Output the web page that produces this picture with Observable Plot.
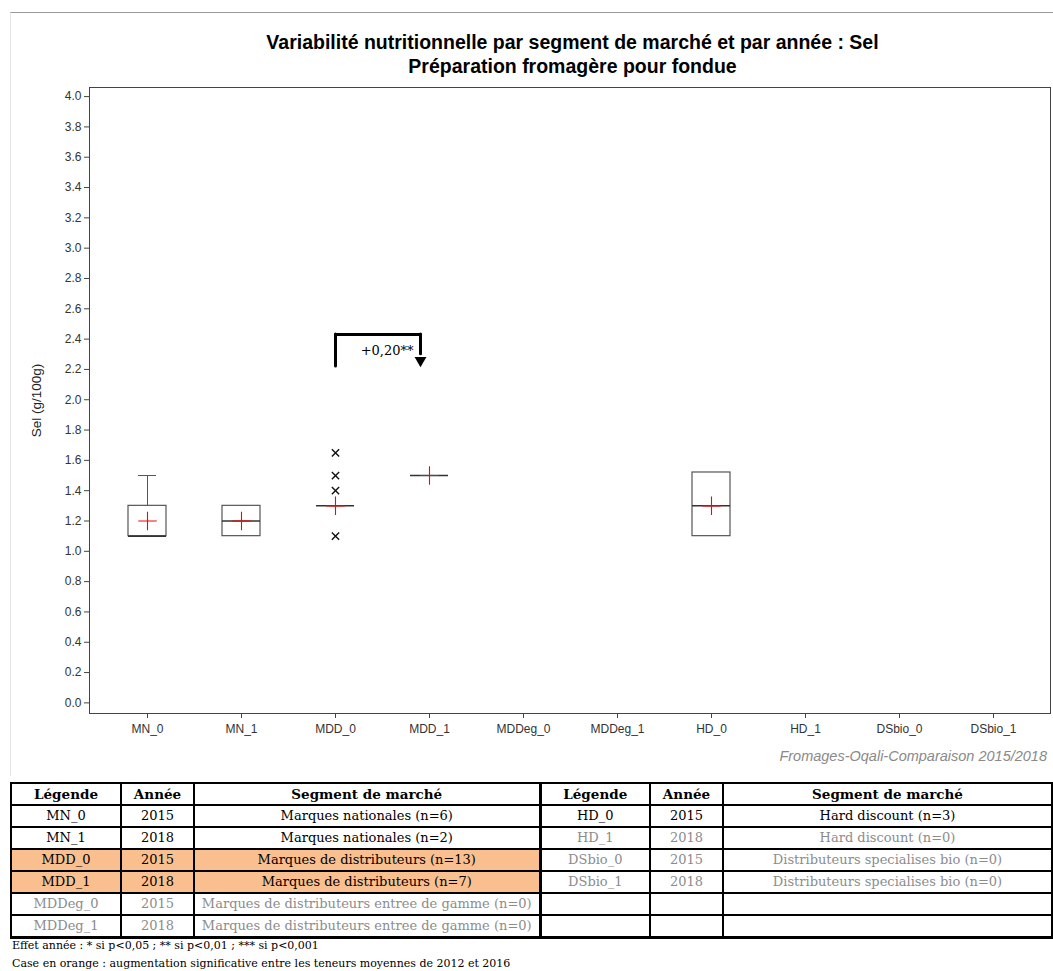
<!DOCTYPE html>
<html>
<head>
<meta charset="utf-8">
<script src="https://cdn.jsdelivr.net/npm/d3@7"></script>
<script src="https://cdn.jsdelivr.net/npm/@observablehq/plot@0.6"></script>
<style>
  html, body { margin: 0; padding: 0; background: #fff; }
  #wrap { position: relative; width: 1053px; height: 971px; overflow: hidden; font-family: "Liberation Sans", Arial, sans-serif; }
  #border { position: absolute; left: 10px; top: 12px; width: 1043px; height: 763px; border-top: 1px solid #9a9a9a; border-left: 1px solid #e6e6e6; }
  #chart { position: absolute; left: 0; top: 0; }
  .title { position: absolute; left: 0; width: 1145px; text-align: center; font-weight: bold; font-size: 19.5px; color: #000; }
  #caption { position: absolute; right: 6px; top: 748px; font-style: italic; font-size: 14.5px; color: #8a8a8a; }
  table.leg { position: absolute; left: 10px; top: 782px; width: 1041px; border-collapse: collapse; font-family: "DejaVu Serif", serif; font-size: 13px; table-layout: fixed; }
  table.leg tr { height: 22px; }
  table.leg td, table.leg th { border: 2px solid #000; height: 20px; padding: 0; text-align: center; line-height: 18px; white-space: nowrap; overflow: hidden; }
  table.leg th { font-size: 13.5px; }
  table.leg tr:first-child th { border-top: 3px solid #000; }
  table.leg tr:last-child td { border-bottom: 3px solid #000; }
  table.leg .sep { border-left: 3px solid #000; }
  table.leg .gray { color: #8c8c8c; }
  table.leg .orange { background: #f9bf8f; }
  .foot { position: absolute; left: 12px; font-family: "DejaVu Serif", serif; font-size: 11px; line-height: 12px; color: #000; }
</style>
</head>
<body>
<div id="wrap">
  <div id="border"></div>
  <div id="chart"></div>
  <div class="title" style="top:31px">Variabilité nutritionnelle par segment de marché et par année : Sel</div>
  <div class="title" style="top:55px">Préparation fromagère pour fondue</div>
  <div id="caption">Fromages-Oqali-Comparaison 2015/2018</div>
  <table class="leg" id="leg"></table>
  <div class="foot" style="top:940px">Effet année : * si p&lt;0,05 ; ** si p&lt;0,01 ; *** si p&lt;0,001</div>
  <div class="foot" style="top:958px">Case en orange : augmentation significative entre les teneurs moyennes de 2012 et 2016</div>
</div>
<script>
// ---- Data ----
const categories = ["MN_0","MN_1","MDD_0","MDD_1","MDDeg_0","MDDeg_1","HD_0","HD_1","DSbio_0","DSbio_1"];
const yTicks = [0,0.2,0.4,0.6,0.8,1.0,1.2,1.4,1.6,1.8,2.0,2.2,2.4,2.6,2.8,3.0,3.2,3.4,3.6,3.8,4.0];

const boxSeg    = ["MN_0","MN_1","MDD_0","MDD_1","HD_0"];
const boxQ1     = [1.1, 1.1, 1.3, 1.5, 1.1];
const boxMedian = [1.1, 1.2, 1.3, 1.5, 1.3];
const boxQ3     = [1.3, 1.3, 1.3, 1.5, 1.52];
const boxMin    = [1.1, 1.1, 1.3, 1.5, 1.1];
const boxMax    = [1.5, 1.3, 1.3, 1.5, 1.52];
const boxMean   = [1.2, 1.2, 1.3, 1.5, 1.3];

const outlierSeg = ["MDD_0","MDD_0","MDD_0","MDD_0"];
const outlierVal = [1.65, 1.5, 1.4, 1.1];

// annotation: year effect between MDD_0 and MDD_1
const annFrom = "MDD_0", annTo = "MDD_1";
const annStart = 2.22, annTop = 2.43, annArrowTip = 2.26;
const annLabel = "+0,20**", annLabelY = 2.32;

// legend table
const legCode1  = ["MN_0","MN_1","MDD_0","MDD_1","MDDeg_0","MDDeg_1"];
const legYear1  = ["2015","2018","2015","2018","2015","2018"];
const legSeg1   = ["Marques nationales (n=6)","Marques nationales (n=2)","Marques de distributeurs (n=13)","Marques de distributeurs (n=7)","Marques de distributeurs entree de gamme (n=0)","Marques de distributeurs entree de gamme (n=0)"];
const legState1 = ["", "", "orange", "orange", "gray", "gray"];
const legCode2  = ["HD_0","HD_1","DSbio_0","DSbio_1","",""];
const legYear2  = ["2015","2018","2015","2018","",""];
const legSeg2   = ["Hard discount (n=3)","Hard discount (n=0)","Distributeurs specialises bio (n=0)","Distributeurs specialises bio (n=0)","",""];
const legState2 = ["", "gray", "gray", "gray", "", ""];

// ---- Build tables ----
const boxes = boxSeg.map((s,i) => ({seg:s, q1:boxQ1[i], med:boxMedian[i], q3:boxQ3[i], min:boxMin[i], max:boxMax[i], mean:boxMean[i]}));
const whiskHi = boxes.filter(d => d.max > d.q3);
const whiskLo = boxes.filter(d => d.min < d.q1);
const outliers = outlierSeg.map((s,i) => ({seg:s, v:outlierVal[i]}));

const chart = Plot.plot({
  width: 1053,
  height: 775,
  marginTop: 87,
  marginBottom: 62,
  marginLeft: 89,
  marginRight: 3,
  style: {fontFamily: "'Liberation Sans', Arial, sans-serif", fontSize: "12px", color: "#333", background: "transparent"},
  x: {type: "band", domain: categories, paddingInner: 0.6, paddingOuter: 0.375, axis: null},
  y: {domain: [-0.07, 4.06], axis: null},
  marks: [
    Plot.frame({stroke: "#444"}),
    Plot.axisY({ticks: yTicks, tickFormat: d => d.toFixed(1), tickSize: 5, tickPadding: 3, fontSize: 12, label: null, stroke: "#444"}),
    Plot.axisX({tickSize: 5, tickPadding: 6, fontSize: 12, label: null, stroke: "#444"}),
    Plot.text(["Sel (g/100g)"], {frameAnchor: "left", textAnchor: "middle", dx: -53, rotate: -90, fontSize: 13.5, fill: "#222", text: d => d}),
    // whiskers
    Plot.ruleX(whiskHi, {x: "seg", y1: "q3", y2: "max", stroke: "#555"}),
    Plot.tickY(whiskHi, {x: "seg", y: "max", stroke: "#555", insetLeft: 10, insetRight: 10}),
    Plot.ruleX(whiskLo, {x: "seg", y1: "min", y2: "q1", stroke: "#555"}),
    Plot.tickY(whiskLo, {x: "seg", y: "min", stroke: "#555", insetLeft: 10, insetRight: 10}),
    // boxes
    Plot.barY(boxes, {x: "seg", y1: "q1", y2: "q3", fill: "none", stroke: "#555", strokeWidth: 1.2}),
    Plot.tickY(boxes, {x: "seg", y: "med", stroke: "#333", strokeWidth: 1.5}),
    // outliers
    Plot.dot(outliers, {x: "seg", y: "v", symbol: "times", r: 3.4, stroke: "#111", strokeWidth: 1.4}),
    // means
    Plot.dot(boxes, {x: "seg", y: "mean", symbol: "plus", r: 6, stroke: "red", strokeWidth: 1.1}),
    // annotation bracket
    Plot.ruleX([annFrom], {x: d => d, y1: annStart, y2: annTop, stroke: "#000", strokeWidth: 3, strokeLinecap: "round"}),
    Plot.arrow([0], {x1: () => annFrom, x2: () => annTo, y1: annTop, y2: annTop, insetEnd: 9, headLength: 0, stroke: "#000", strokeWidth: 3, strokeLinecap: "round"}),
    Plot.ruleX([annTo], {x: d => d, y1: annTop, y2: annArrowTip + 0.04, dx: -9, stroke: "#000", strokeWidth: 3, strokeLinecap: "round"}),
    Plot.dot([annTo], {x: d => d, y: annArrowTip, dx: -9, symbol: "triangle", rotate: 180, r: 4.4, fill: "#000", stroke: "none"}),
    Plot.text([annLabel], {x: () => annTo, y: annLabelY, dx: -16, text: d => d, textAnchor: "end", fontFamily: "'DejaVu Serif', serif", fontSize: 13, fill: "#000"})
  ]
});
document.getElementById("chart").appendChild(chart);

// legend table
const tbl = document.getElementById("leg");
const cg = document.createElement("colgroup");
[110, 73, 346, 110, 73, 329].forEach(w => { const c = document.createElement("col"); c.style.width = w + "px"; cg.appendChild(c); });
tbl.appendChild(cg);
const hdr = document.createElement("tr");
["Légende","Année","Segment de marché","Légende","Année","Segment de marché"].forEach((t,i) => {
  const th = document.createElement("th"); th.textContent = t; if (i === 3) th.className = "sep"; hdr.appendChild(th);
});
tbl.appendChild(hdr);
for (let i = 0; i < legCode1.length; i++) {
  const tr = document.createElement("tr");
  const cells = [
    [legCode1[i], legState1[i]], [legYear1[i], legState1[i]], [legSeg1[i], legState1[i]],
    [legCode2[i], legState2[i]], [legYear2[i], legState2[i]], [legSeg2[i], legState2[i]]
  ];
  cells.forEach(([t, st], j) => {
    const td = document.createElement("td");
    td.textContent = t;
    const cls = [];
    if (st) cls.push(st);
    if (j === 3) cls.push("sep");
    td.className = cls.join(" ");
    tr.appendChild(td);
  });
  tbl.appendChild(tr);
}
</script>
</body>
</html>
